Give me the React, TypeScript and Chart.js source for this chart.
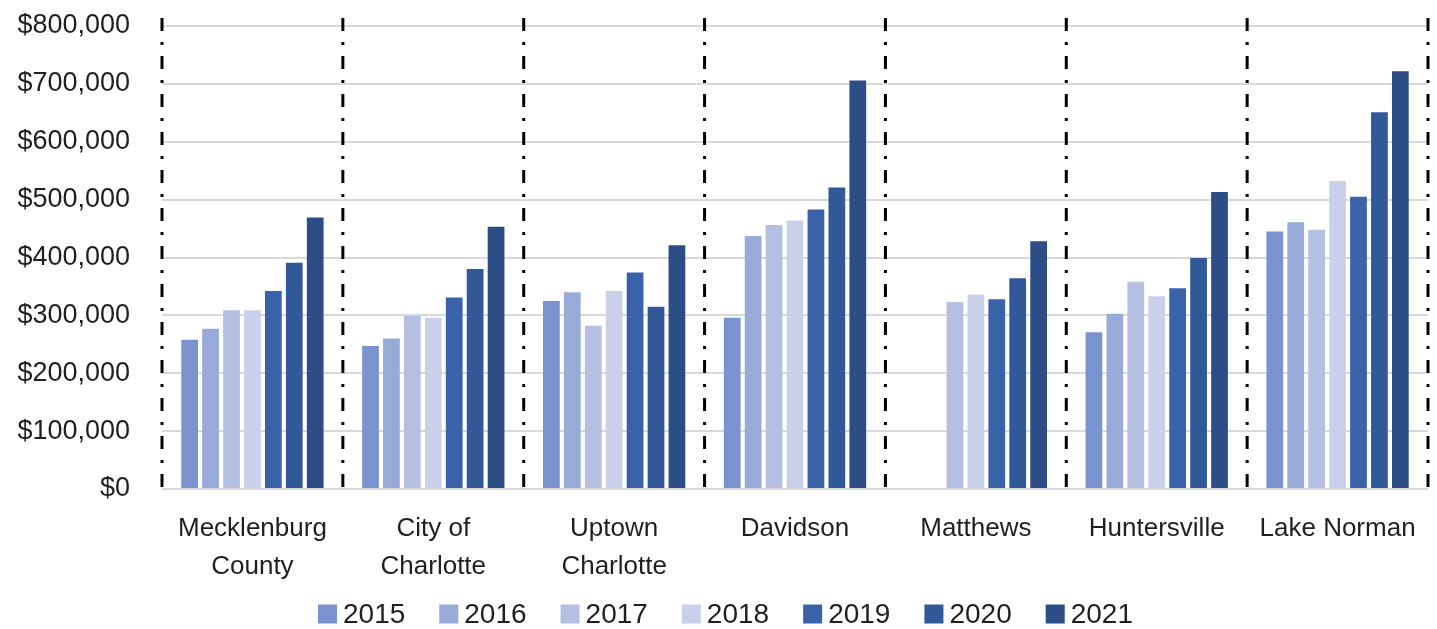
import React, { useEffect, useRef } from "react";
import { Chart, registerables } from "chart.js";

Chart.register(...registerables);

const categories: (string | string[])[] = [
  ["Mecklenburg", "County"],
  ["City of", "Charlotte"],
  ["Uptown", "Charlotte"],
  "Davidson",
  "Matthews",
  "Huntersville",
  "Lake Norman",
];

const years = ["2015", "2016", "2017", "2018", "2019", "2020", "2021"];

const v2015 = [258000, 247000, 325000, 296000, null, 271000, 445000];
const v2016 = [277000, 260000, 340000, 437000, null, 303000, 461000];
const v2017 = [309000, 299000, 282000, 456000, 323000, 358000, 448000];
const v2018 = [309000, 296000, 342000, 464000, 336000, 333000, 532000];
const v2019 = [342000, 331000, 374000, 483000, 328000, 347000, 505000];
const v2020 = [391000, 380000, 315000, 521000, 364000, 399000, 651000];
const v2021 = [469000, 453000, 421000, 706000, 428000, 513000, 722000];

const seriesValues = [v2015, v2016, v2017, v2018, v2019, v2020, v2021];
const seriesColors = ["#7A92CE", "#98AAD7", "#B4BFE1", "#CBD0EA", "#3A62A8", "#315897", "#2D4D86"];

const yTicksMin = 0;
const yTicksMax = 800000;
const yTickStep = 100000;

const FONT = "'Liberation Sans', Arial, sans-serif";
const TEXT = "#1f1f1f";

const dividerPlugin = {
  id: "dividers",
  beforeDatasetsDraw(chart: any) {
    const { ctx, chartArea, scales } = chart;
    const x = scales.x;
    const n = categories.length;
    const step = x.width / n;
    ctx.save();
    ctx.strokeStyle = "#000";
    ctx.lineWidth = 3;
    ctx.setLineDash([13, 11, 3, 11]);
    for (let i = 0; i <= n; i++) {
      const px = i < n ? x.getPixelForValue(i) - step / 2 : x.getPixelForValue(n - 1) + step / 2;
      ctx.beginPath();
      ctx.moveTo(px, chartArea.top - 8);
      ctx.lineTo(px, chartArea.bottom);
      ctx.stroke();
    }
    ctx.restore();
  },
};

const legendPlugin = {
  id: "customLegend",
  afterDraw(chart: any) {
    const { ctx } = chart;
    ctx.save();
    ctx.font = `28px ${FONT}`;
    const items = chart.data.datasets.map((d: any) => ({
      text: String(d.label),
      color: d.backgroundColor,
      w: ctx.measureText(String(d.label)).width,
    }));
    const box = 19;
    const gap = 6;
    const spacing = 34;
    const total =
      items.reduce((s: number, it: any) => s + box + gap + it.w, 0) + spacing * (items.length - 1);
    let x = chart.width / 2 - total / 2 + 7;
    const cy = chart.height - 15;
    ctx.textBaseline = "middle";
    ctx.textAlign = "left";
    items.forEach((it: any) => {
      ctx.fillStyle = it.color;
      ctx.fillRect(x, cy - box / 2, box, box);
      x += box + gap;
      ctx.fillStyle = TEXT;
      ctx.fillText(it.text, x, cy + 1);
      x += it.w + spacing;
    });
    ctx.restore();
  },
};

export default function App() {
  const ref = useRef<HTMLCanvasElement | null>(null);

  useEffect(() => {
    if (!ref.current) return;
    const chart = new Chart(ref.current, {
      type: "bar",
      data: {
        labels: categories,
        datasets: years.map((y, i) => ({
          label: y,
          data: seriesValues[i],
          backgroundColor: seriesColors[i],
          borderWidth: 0,
          categoryPercentage: 0.81,
          barPercentage: 0.8,
        })),
      },
      options: {
        animation: false,
        responsive: false,
        layout: { padding: { top: 26, right: 9, left: 0, bottom: 40 } },
        plugins: {
          tooltip: { enabled: false },
          legend: { display: false },
        },
        scales: {
          x: {
            grid: { display: false },
            border: { display: false },
            ticks: {
              color: TEXT,
              font: { family: FONT, size: 26, lineHeight: 1.45 },
              padding: 13,
              maxRotation: 0,
              autoSkip: false,
            },
            afterFit: (s: any) => {
              s.height = 100;
            },
          },
          y: {
            min: yTicksMin,
            max: yTicksMax,
            grid: { color: "#d9d9d9", lineWidth: 2, drawTicks: false },
            border: { display: false },
            ticks: {
              stepSize: yTickStep,
              padding: 32,
              color: TEXT,
              font: { family: FONT, size: 27 },
              callback: (v: any) => "$" + Number(v).toLocaleString("en-US"),
            },
            afterFit: (s: any) => {
              s.width = 162;
              s.paddingTop = 0;
              s.paddingBottom = 0;
            },
          },
        },
      },
      plugins: [dividerPlugin, legendPlugin],
    });
    return () => chart.destroy();
  }, []);

  return (
    <div style={{ position: "absolute", left: 0, top: 0, width: 1437, height: 629, background: "#fff" }}>
      <canvas ref={ref} width={1437} height={629} />
    </div>
  );
}
